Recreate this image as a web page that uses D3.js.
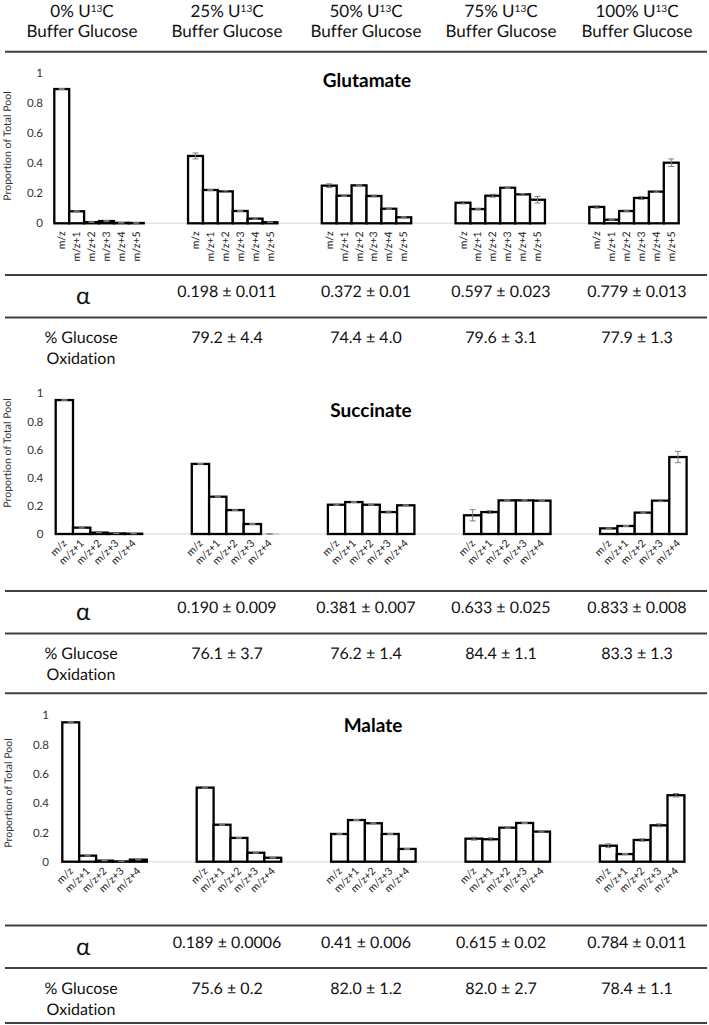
<!DOCTYPE html>
<html><head><meta charset="utf-8">
<script src="https://cdn.jsdelivr.net/npm/d3@7"></script>
<style>
html,body{margin:0;padding:0;background:#fff;}
svg{display:block;font-family:Lato,"Open Sans",sans-serif;font-variant-ligatures:none;font-feature-settings:"liga" 0;text-rendering:geometricPrecision;}
</style></head>
<body>
<svg id="c" width="709" height="1025"></svg>
<script>
// ---------- DATA ----------
const headerPct = ["0%", "25%", "50%", "75%", "100%"];
const gluLabels = ["m/z", "m/z+1", "m/z+2", "m/z+3", "m/z+4", "m/z+5"];
const c4Labels = ["m/z", "m/z+1", "m/z+2", "m/z+3", "m/z+4"];

const gluValues = [
  [0.895, 0.080, 0.008, 0.015, 0.003, 0.002],
  [0.449, 0.222, 0.213, 0.082, 0.031, 0.007],
  [0.251, 0.184, 0.253, 0.182, 0.097, 0.040],
  [0.137, 0.095, 0.184, 0.237, 0.193, 0.157],
  [0.109, 0.024, 0.082, 0.169, 0.211, 0.404]
];
const gluErrors = [
  [0.003, 0.003, 0.002, 0.004, 0.001, 0.001],
  [0.020, 0.004, 0.006, 0.004, 0.005, 0.002],
  [0.012, 0.004, 0.003, 0.006, 0.004, 0.003],
  [0.008, 0.005, 0.010, 0.004, 0.006, 0.022],
  [0.008, 0.003, 0.005, 0.010, 0.005, 0.025]
];
const sucValues = [
  [0.952, 0.045, 0.010, 0.004, 0.002],
  [0.498, 0.265, 0.170, 0.071, 0.000],
  [0.208, 0.227, 0.208, 0.156, 0.204],
  [0.133, 0.156, 0.239, 0.239, 0.237],
  [0.040, 0.057, 0.152, 0.237, 0.547]
];
const sucErrors = [
  [0.002, 0.004, 0.001, 0.001, 0.001],
  [0.003, 0.003, 0.002, 0.003, 0.001],
  [0.004, 0.003, 0.003, 0.006, 0.003],
  [0.040, 0.010, 0.003, 0.004, 0.003],
  [0.003, 0.003, 0.004, 0.007, 0.040]
];
const malValues = [
  [0.950, 0.041, 0.007, 0.002, 0.014],
  [0.505, 0.252, 0.162, 0.061, 0.027],
  [0.189, 0.284, 0.262, 0.189, 0.087],
  [0.157, 0.153, 0.232, 0.264, 0.205],
  [0.109, 0.052, 0.148, 0.248, 0.453]
];
const malErrors = [
  [0.003, 0.003, 0.001, 0.001, 0.002],
  [0.003, 0.003, 0.002, 0.003, 0.002],
  [0.002, 0.003, 0.003, 0.003, 0.003],
  [0.010, 0.010, 0.004, 0.004, 0.004],
  [0.013, 0.004, 0.008, 0.010, 0.012]
];
const yTicks = [0, 0.2, 0.4, 0.6, 0.8, 1];

const gluAlpha = ["0.198 ± 0.011", "0.372 ± 0.01", "0.597 ± 0.023", "0.779 ± 0.013"];
const gluOx = ["79.2 ± 4.4", "74.4 ± 4.0", "79.6 ± 3.1", "77.9 ± 1.3"];
const sucAlpha = ["0.190 ± 0.009", "0.381 ± 0.007", "0.633 ± 0.025", "0.833 ± 0.008"];
const sucOx = ["76.1 ± 3.7", "76.2 ± 1.4", "84.4 ± 1.1", "83.3 ± 1.3"];
const malAlpha = ["0.189 ± 0.0006", "0.41 ± 0.006", "0.615 ± 0.02", "0.784 ± 0.011"];
const malOx = ["75.6 ± 0.2", "82.0 ± 1.2", "82.0 ± 2.7", "78.4 ± 1.1"];

// ---------- LAYOUT ----------
const svg = d3.select("#c");
const colX = [82, 227, 366, 501, 637];
const lineColor = "#404040";

function hline(y, w) {
  svg.append("line").attr("x1", 5).attr("x2", 707).attr("y1", y).attr("y2", y)
    .attr("stroke", lineColor).attr("stroke-width", w || 2);
}

// header
headerPct.forEach((p, i) => {
  const t = svg.append("text").attr("x", colX[i]).attr("y", 16.5)
    .attr("text-anchor", "middle").attr("font-size", 17).attr("fill", "#111");
  t.append("tspan").text(p + " U");
  t.append("tspan").attr("font-size", 10).attr("dy", -5).text("13");
  t.append("tspan").attr("dy", 5).text("C");
  svg.append("text").attr("x", colX[i]).attr("y", 37).attr("text-anchor", "middle")
    .attr("font-size", 17).attr("fill", "#111").text("Buffer Glucose");
});
hline(51.7, 2);

function chart(cfg) {
  const g = svg.append("g");
  const y = d3.scaleLinear().domain([0, 1]).range([cfg.base, cfg.top]);
  const gx = d3.scaleLinear().domain([0, 4]).range([cfg.start, cfg.start + 4 * cfg.spacing]);
  const bx = d3.scaleBand().domain(cfg.labels).range([0, cfg.bw * cfg.labels.length]).padding(0);

  // baseline
  g.append("line").attr("x1", gx(0) - 1).attr("x2", gx(4) + bx.range()[1] + 1)
    .attr("y1", cfg.base).attr("y2", cfg.base).attr("stroke", "#e3e3e3").attr("stroke-width", 1.5);
  cfg.values.forEach((vals, gi) => {
    g.append("line").attr("x1", gx(gi) - 1).attr("x2", gx(gi) + bx.range()[1] + 1)
      .attr("y1", cfg.base).attr("y2", cfg.base).attr("stroke", "#c8c8c8").attr("stroke-width", 1.5);
  });

  // y axis
  const ax = g.append("g").attr("transform", `translate(${cfg.tickX},0)`)
    .call(d3.axisLeft(y).tickValues(yTicks).tickSize(0).tickPadding(0).tickFormat(d3.format("~g")));
  ax.select(".domain").remove();
  ax.selectAll("text").attr("font-size", 11.5).attr("fill", "#333").attr("font-family", "Lato");

  g.append("text").attr("transform", `translate(${cfg.ytX},${cfg.ytY}) rotate(-90)`)
    .attr("text-anchor", "middle").attr("font-size", 10.5).attr("fill", "#333").text("Proportion of Total Pool");

  g.append("text").attr("x", cfg.titleX).attr("y", cfg.titleY).attr("text-anchor", "middle")
    .attr("font-size", 19).attr("font-weight", "bold").attr("fill", "#000").text(cfg.title);

  cfg.values.forEach((vals, gi) => {
    const gg = g.append("g").attr("transform", `translate(${gx(gi)},0)`);
    gg.selectAll("rect").data(vals).join("rect")
      .attr("x", (d, i) => bx(cfg.labels[i]))
      .attr("y", d => y(d))
      .attr("width", bx.bandwidth())
      .attr("height", d => cfg.base - y(d))
      .attr("fill", "#fff").attr("stroke", "#000").attr("stroke-width", 2.3);
    const errs = cfg.errors[gi];
    vals.forEach((d, i) => {
      const cx = bx(cfg.labels[i]) + bx.bandwidth() / 2;
      const e = errs[i];
      gg.append("line").attr("x1", cx).attr("x2", cx).attr("y1", y(d + e)).attr("y2", y(Math.max(0, d - e)))
        .attr("stroke", "#808080").attr("stroke-width", 1);
      [d + e, Math.max(0, d - e)].forEach(v => {
        gg.append("line").attr("x1", cx - 3).attr("x2", cx + 3).attr("y1", y(v)).attr("y2", y(v))
          .attr("stroke", "#808080").attr("stroke-width", 1);
      });
    });
    cfg.labels.forEach((lab, i) => {
      const cx = bx(lab) + bx.bandwidth() / 2;
      if (cfg.rot === -90) {
        gg.append("text").attr("transform", `translate(${cx + 3.5},${cfg.base + 8}) rotate(-90)`)
          .attr("text-anchor", "end").attr("font-size", 10.5).attr("fill", "#222").text(lab);
      } else {
        gg.append("text").attr("transform", `translate(${cx + 3},${cfg.base + 10}) rotate(-45)`)
          .attr("text-anchor", "end").attr("font-size", 10.5).attr("fill", "#222").text(lab);
      }
    });
  });
}

function table(y0, alpha, ox, bottom) {
  hline(y0, 2);
  svg.append("text").attr("x", 83).attr("y", y0 + 29).attr("text-anchor", "middle")
    .attr("font-size", 24).attr("fill", "#111").text("α");
  alpha.forEach((t, i) => svg.append("text").attr("x", colX[i + 1]).attr("y", y0 + 22)
    .attr("text-anchor", "middle").attr("font-size", 16).attr("fill", "#111").text(t));
  hline(y0 + 42.5, 2);
  svg.append("text").attr("x", 81).attr("y", y0 + 68).attr("text-anchor", "middle")
    .attr("font-size", 16).attr("fill", "#111").text("% Glucose");
  svg.append("text").attr("x", 81).attr("y", y0 + 89).attr("text-anchor", "middle")
    .attr("font-size", 16).attr("fill", "#111").text("Oxidation");
  ox.forEach((t, i) => svg.append("text").attr("x", colX[i + 1]).attr("y", y0 + 68)
    .attr("text-anchor", "middle").attr("font-size", 16).attr("fill", "#111").text(t));
  if (bottom) hline(bottom, 2);
}

chart({title: "Glutamate", labels: gluLabels, values: gluValues, errors: gluErrors,
  start: 54.3, spacing: 133.75, bw: 14.9, base: 223.3, top: 73.3,
  tickX: 43, ytX: 11, ytY: 146, titleX: 367, titleY: 86.7, rot: -90});
table(275, gluAlpha, gluOx, null);

chart({title: "Succinate", labels: c4Labels, values: sucValues, errors: sucErrors,
  start: 55.7, spacing: 136.1, bw: 17.3, base: 534, top: 393.3,
  tickX: 43.3, ytX: 11, ytY: 453, titleX: 371, titleY: 417.3, rot: -45});
table(591, sucAlpha, sucOx, 693.3);

chart({title: "Malate", labels: c4Labels, values: malValues, errors: malErrors,
  start: 62.3, spacing: 134.4, bw: 16.9, base: 861.7, top: 715,
  tickX: 49, ytX: 12, ytY: 793, titleX: 373, titleY: 731.7, rot: -45});
table(925.5, malAlpha, malOx, 1023);
</script>
</body></html>
